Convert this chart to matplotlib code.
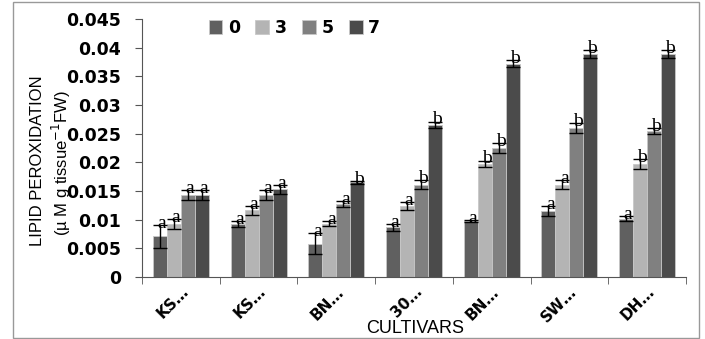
import numpy as np
import matplotlib
matplotlib.use('Agg')
from matplotlib import pyplot as plt
from matplotlib.patches import Rectangle
from matplotlib.transforms import ScaledTranslation

cultivars = ['KS…', 'KS…', 'BN…', '30…', 'BN…', 'SW…', 'DH…']
days = ['0', '3', '5', '7']
vals = [
    [0.0071, 0.0092, 0.0143, 0.0143],
    [0.0092, 0.0116, 0.0143, 0.0153],
    [0.0058, 0.0093, 0.0127, 0.0165],
    [0.0087, 0.0124, 0.0161, 0.0265],
    [0.0098, 0.0197, 0.0225, 0.0372],
    [0.0115, 0.0161, 0.0260, 0.0389],
    [0.0102, 0.0197, 0.0254, 0.0389],
]
errs = [
    [0.0020, 0.0009, 0.0008, 0.0008],
    [0.0005, 0.0008, 0.0008, 0.0008],
    [0.0018, 0.0004, 0.0005, 0.0003],
    [0.0006, 0.0007, 0.0008, 0.0006],
    [0.0002, 0.0006, 0.0008, 0.0006],
    [0.0008, 0.0008, 0.0008, 0.0007],
    [0.0005, 0.0008, 0.0005, 0.0007],
]
letters = [
    ['a', 'a', 'a', 'a'],
    ['a', 'a', 'a', 'a'],
    ['a', 'a', 'a', 'b'],
    ['a', 'a', 'b', 'b'],
    ['a', 'b', 'b', 'b'],
    ['a', 'a', 'b', 'b'],
    ['a', 'b', 'b', 'b'],
]
colors = ['#606060', '#b4b4b4', '#808080', '#4b4b4b']

vals = np.array(vals)
errs = np.array(errs)

fig = plt.figure(figsize=(7.05, 3.39), dpi=100)
ax = fig.add_axes([0.2014, 0.1829, 0.7716, 0.7611])

x = np.arange(len(cultivars))
w = 0.18
for j in range(4):
    pos = x + (j - 1.5) * w
    ax.bar(pos, vals[:, j], w, color=colors[j], edgecolor='#c8c8c8', linewidth=0.6,
           label=days[j], zorder=2)
    ax.errorbar(pos, vals[:, j], yerr=errs[:, j], fmt='none', ecolor='black',
                elinewidth=1, capsize=5, capthick=1, zorder=3)
    for i in range(len(cultivars)):
        ax.text(pos[i] + 0.025, vals[i, j] + errs[i, j] - 0.0012, letters[i][j],
                ha='center', va='bottom', fontsize=14, family='Liberation Serif', zorder=4)

ax.set_xlim(-0.5, len(cultivars) - 0.5)
ax.set_ylim(0, 0.045)
ax.set_yticks(np.arange(0, 0.0451, 0.005))
ax.set_yticklabels(['0', '0.005', '0.01', '0.015', '0.02', '0.025', '0.03', '0.035', '0.04', '0.045'],
                   fontsize=12.5, fontweight='bold')
ax.set_xticks(x)
ax.set_xticklabels(cultivars, rotation=45, ha='right', rotation_mode='anchor',
                   fontsize=11, fontweight='bold')
shift = ScaledTranslation(14 / 100, 0, fig.dpi_scale_trans)
for lab in ax.get_xticklabels():
    lab.set_transform(lab.get_transform() + shift)
ax.tick_params(axis='x', which='major', length=0, pad=5)
ax.set_xticks(np.arange(-0.5, len(cultivars)), minor=True)
ax.tick_params(axis='x', which='minor', length=5, direction='out', color='#555555')
ax.tick_params(axis='y', length=5, color='#555555', pad=10)
for s in ['top', 'right']:
    ax.spines[s].set_visible(False)
for s in ['left', 'bottom']:
    ax.spines[s].set_color('#555555')

ax.legend(loc='center', bbox_to_anchor=(0.28, 0.965), ncol=4, frameon=False,
          prop={'weight': 'bold', 'size': 12.5}, handlelength=0.8, handleheight=0.8,
          handletextpad=0.3, columnspacing=0.9)

fig.text(0.053, 0.525, 'LIPID PEROXIDATION', rotation=90, ha='center', va='center',
         fontsize=12, family='Liberation Sans')
fig.text(0.087, 0.52, '(µ M g tissue$^{-1}$FW)', rotation=90, ha='center', va='center',
         fontsize=12, family='Liberation Sans')
fig.text(0.589, 0.032, 'CULTIVARS', ha='center', va='center', fontsize=13,
         family='Liberation Sans')

fig.patches.append(Rectangle((13 / 705, 1 / 339), 686 / 705, 336 / 339, transform=fig.transFigure,
                             fill=False, edgecolor='#999999', linewidth=1))

fig.savefig('out.png', dpi=100)
